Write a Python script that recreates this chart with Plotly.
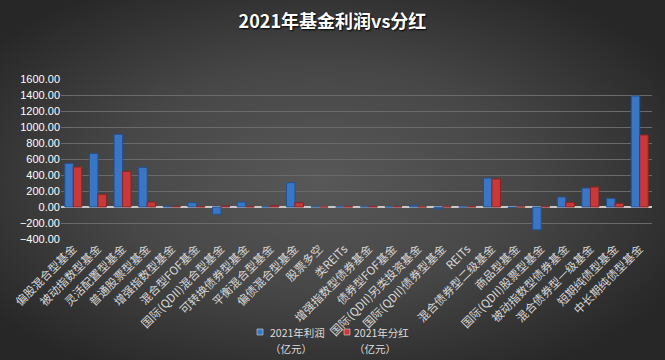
import base64
import plotly.graph_objects as go

categories = [
    "偏股混合型基金", "被动指数型基金", "灵活配置型基金", "普通股票型基金",
    "增强指数型基金", "混合型FOF基金", "国际(QDII)混合型基金", "可转换债券型基金",
    "平衡混合型基金", "偏债混合型基金", "股票多空", "类REITs",
    "增强指数型债券基金", "债券型FOF基金", "国际(QDII)另类投资基金", "国际(QDII)债券型基金",
    "REITs", "混合债券型二级基金", "商品型基金", "国际(QDII)股票型基金",
    "被动指数型债券基金", "混合债券型一级基金", "短期纯债型基金", "中长期纯债型基金",
]
profit = [545, 667, 908, 496, 10, 55, -91, 62, 3, 304, 3, 2,
          3, 2, 22, -22, 1, 362, -8, -285, 125, 237, 108, 1387]
dividend = [500, 159, 446, 63, 8, 4, 12, 4, 15, 54, 1, 3,
            4, 4, 2, 3, 4, 350, 1, 4, 58, 250, 46, 900]
y_ticks = [-400, -200, 0, 200, 400, 600, 800, 1000, 1200, 1400, 1600]
series_names = ["2021年利润（亿元）", "2021年分红（亿元）"]
legend_lines = [["2021年利润", "（亿元）"], ["2021年分红", "（亿元）"]]
colors = ["#3a76c6", "#c83a3a"]
edge_colors = ["#24528f", "#8c2222"]

W, H = 665, 360
ml, mr, mt, mb = 61, 13, 79, 121
pw, ph = W - ml - mr, H - mt - mb


def px_x(px):
    return (px - ml) / pw


def px_y(py):
    return (H - mb - py) / ph


svg = f'''<svg xmlns="http://www.w3.org/2000/svg" width="{W}" height="{H}" viewBox="0 0 {W} {H}" preserveAspectRatio="none">
<defs><radialGradient id="g" cx="48%" cy="50%" r="62%">
<stop offset="0%" stop-color="#585858"/><stop offset="50%" stop-color="#474747"/><stop offset="100%" stop-color="#272727"/>
</radialGradient></defs><rect width="{W}" height="{H}" fill="url(#g)"/></svg>'''
src = "data:image/svg+xml;base64," + base64.b64encode(svg.encode()).decode()

fig = go.Figure()
for name, vals, c, ec in zip(series_names, [profit, dividend], colors, edge_colors):
    fig.add_trace(go.Bar(x=categories, y=vals, name=name,
                         marker=dict(color=c, line=dict(color=ec, width=1))))

# legend drawn as squares + text (positions of the reference legend)
legend_marker_px = [257, 344]
legend_text_px = [268, 352]
shapes, annotations = [], []
for i in range(2):
    mx = legend_marker_px[i]
    shapes.append(dict(type="rect", xref="paper", yref="paper",
                       x0=px_x(mx), x1=px_x(mx + 6), y0=px_y(335), y1=px_y(329),
                       fillcolor=colors[i], line=dict(color="#cfd8e6" if i == 0 else "#f0c8c8", width=0.6)))
    for j, (txt, py) in enumerate(zip(legend_lines[i], [332, 348])):
        annotations.append(dict(text=txt, xref="paper", yref="paper", x=px_x(legend_text_px[i]),
                                y=px_y(py), xanchor="left", yanchor="middle", showarrow=False,
                                font=dict(size=10.5, color="#dddddd")))

fig.update_layout(
    width=W, height=H,
    margin=dict(l=ml, r=mr, t=mt, b=mb, autoexpand=False),
    paper_bgcolor="#333333", plot_bgcolor="rgba(0,0,0,0)",
    barmode="group", bargap=0.31, bargroupgap=0,
    title=dict(text="<b>2021年基金利润vs分红</b>", x=0.5, xanchor="center", y=0.94, yanchor="middle",
               font=dict(family="Noto Sans CJK SC", size=18, color="#ffffff", shadow="1px 1px 2px #000")),
    font=dict(family="Noto Sans CJK SC", color="#e0e0e0"),
    showlegend=False,
    shapes=shapes,
    annotations=annotations,
    images=[dict(source=src, xref="paper", yref="paper", x=-ml / pw, y=(ph + mt) / ph,
                 sizex=W / pw, sizey=H / ph, sizing="stretch", layer="below",
                 xanchor="left", yanchor="top")],
)
fig.update_xaxes(tickangle=-45, tickfont=dict(family="Noto Sans CJK SC", size=11.5, color="#d8d8d8"),
                 showgrid=False, showline=False, ticks="", automargin=False)
fig.update_yaxes(range=[-400, 1600], tickvals=y_ticks, tickformat=".2f", automargin=False,
                 tickfont=dict(family="Liberation Sans", size=11, color="#ffffff"),
                 showgrid=True, gridcolor="#6a6a6a", gridwidth=1,
                 zeroline=True, zerolinecolor="#c8c8c8", zerolinewidth=1.5, showline=False)

fig.write_html("out.html", config={"displayModeBar": False},
               post_script="document.body.style.margin='0';document.body.style.background='#2a2a2a';")
